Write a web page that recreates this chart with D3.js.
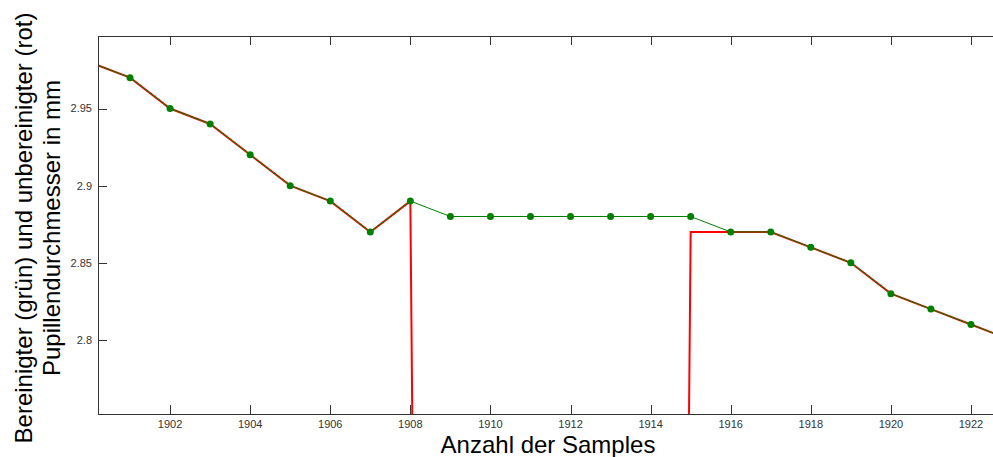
<!DOCTYPE html>
<html>
<head>
<meta charset="utf-8">
<script src="https://cdn.jsdelivr.net/npm/d3@7"></script>
<style>
  body { margin: 0; background: #fff; }
  svg { display: block; font-family: "Liberation Sans", Arial, sans-serif; }
</style>
</head>
<body>
<div id="chart"></div>
<script>
// samples (x) and pupil diameter values
const samples = [1900, 1901, 1902, 1903, 1904, 1905, 1906, 1907, 1908, 1909, 1910, 1911,
                 1912, 1913, 1914, 1915, 1916, 1917, 1918, 1919, 1920, 1921, 1922, 1923];
// cleaned (green)
const cleaned = [2.98, 2.97, 2.95, 2.94, 2.92, 2.90, 2.89, 2.87, 2.89, 2.88, 2.88, 2.88,
                 2.88, 2.88, 2.88, 2.88, 2.87, 2.87, 2.86, 2.85, 2.83, 2.82, 2.81, 2.80];
// raw (red), blink dropouts = 0
const raw = [2.98, 2.97, 2.95, 2.94, 2.92, 2.90, 2.89, 2.87, 2.89, 0, 0, 0,
             0, 0, 0, 2.87, 2.87, 2.87, 2.86, 2.85, 2.83, 2.82, 2.81, 2.80];

const xTicks = [1902, 1904, 1906, 1908, 1910, 1912, 1914, 1916, 1918, 1920, 1922];
const yTicks = [2.8, 2.85, 2.9, 2.95];

const width = 993, height = 457;
const mLeft = 98, mRight = 994, mTop = 36, mBottom = 414;

const svg = d3.select("#chart").append("svg")
    .attr("width", width)
    .attr("height", height);

const x = d3.scaleLinear().domain([1900.2, 1922.55]).range([mLeft, 993]);
const y = d3.scaleLinear().domain([2.752, 2.997]).range([mBottom, mTop]);

svg.append("clipPath").attr("id", "plot")
  .append("rect")
    .attr("x", mLeft).attr("y", mTop)
    .attr("width", mRight - mLeft).attr("height", mBottom - mTop);

const plot = svg.append("g").attr("clip-path", "url(#plot)");

const line = (vals) => d3.line()
    .x((d, i) => x(samples[i]))
    .y(d => y(d))(vals);

// raw (red) below
plot.append("path")
    .attr("d", line(raw))
    .attr("fill", "none")
    .attr("stroke", "#ff0000")
    .attr("stroke-width", 2);

// cleaned (green) on top
plot.append("path")
    .attr("d", line(cleaned))
    .attr("fill", "none")
    .attr("stroke", "#008000")
    .attr("stroke-width", 1);

plot.selectAll("circle")
    .data(cleaned)
    .join("circle")
    .attr("cx", (d, i) => x(samples[i]))
    .attr("cy", d => y(d))
    .attr("r", 3.5)
    .attr("fill", "#008000");

// axes frame
const axisColor = "#333";
svg.append("line")
    .attr("x1", mLeft).attr("x2", mRight).attr("y1", mTop + 0.5).attr("y2", mTop + 0.5)
    .attr("stroke", axisColor);
svg.append("line")
    .attr("x1", mLeft).attr("x2", mRight).attr("y1", mBottom + 0.5).attr("y2", mBottom + 0.5)
    .attr("stroke", axisColor);
svg.append("line")
    .attr("x1", mLeft + 0.5).attr("x2", mLeft + 0.5).attr("y1", mTop).attr("y2", mBottom)
    .attr("stroke", axisColor);

// x ticks (inward, bottom and top)
const xt = svg.append("g");
xTicks.forEach(t => {
  const px = Math.round(x(t)) + 0.5;
  xt.append("line").attr("x1", px).attr("x2", px)
    .attr("y1", mBottom).attr("y2", mBottom - 9).attr("stroke", axisColor);
  xt.append("line").attr("x1", px).attr("x2", px)
    .attr("y1", mTop).attr("y2", mTop + 9).attr("stroke", axisColor);
  xt.append("text")
    .attr("x", x(t)).attr("y", 428)
    .attr("text-anchor", "middle")
    .attr("font-size", 11)
    .attr("fill", "#333")
    .text(t);
});

// y ticks (inward)
const yt = svg.append("g");
yTicks.forEach(t => {
  const py = Math.round(y(t)) + 0.5;
  yt.append("line").attr("x1", mLeft).attr("x2", mLeft + 9)
    .attr("y1", py).attr("y2", py).attr("stroke", axisColor);
  yt.append("text")
    .attr("x", 92).attr("y", y(t))
    .attr("dy", "0.35em")
    .attr("text-anchor", "end")
    .attr("font-size", 11)
    .attr("fill", "#333")
    .text(d3.format("")(t));
});

// axis labels
svg.append("text")
    .attr("x", 548).attr("y", 453)
    .attr("text-anchor", "middle")
    .attr("font-size", 24)
    .text("Anzahl der Samples");

const yl = svg.append("g").attr("transform", "translate(0,228) rotate(-90)");
yl.append("text")
    .attr("x", 0).attr("y", 32)
    .attr("text-anchor", "middle")
    .attr("font-size", 24)
    .text("Bereinigter (grün) und unbereinigter (rot)");
yl.append("text")
    .attr("x", 0).attr("y", 60)
    .attr("text-anchor", "middle")
    .attr("font-size", 24)
    .text("Pupillendurchmesser in mm");
</script>
</body>
</html>
